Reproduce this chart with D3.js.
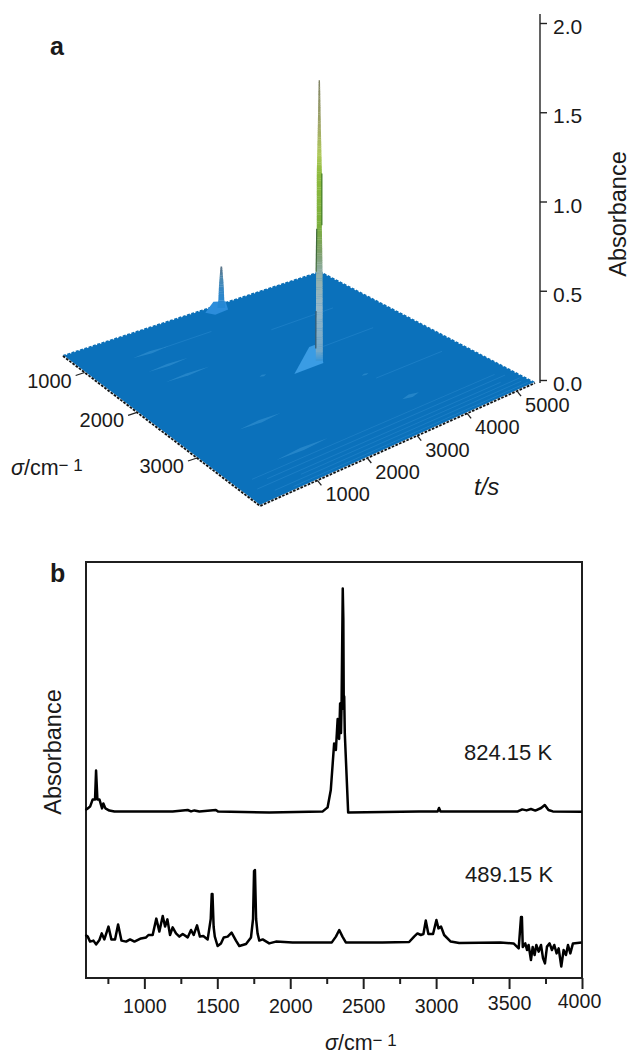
<!DOCTYPE html>
<html>
<head>
<meta charset="utf-8">
<style>
    html, body { margin: 0; padding: 0; background: #fff; }
    svg { display: block; }
    text { font-family: "Liberation Sans", Arial, sans-serif; fill: #1a1a1a; }
</style>
</head>
<body>
<svg width="630" height="1054"></svg>
<script src="https://d3js.org/d3.v7.min.js"></script>
<script>
    // panel b spectra: wavenumber (cm-1), absorbance (arbitrary offset units)
    var hotSigma = [596, 612, 628, 646, 662, 669, 678, 692, 710, 719, 733, 760, 795, 1194, 1297, 1320, 1343, 1377, 1490, 1505, 1856, 2221, 2256, 2278, 2301, 2313, 2325, 2335, 2342, 2348, 2352, 2360, 2364, 2367, 2370, 2374, 2397, 2883, 3010, 3020, 3030, 3560, 3590, 3620, 3650, 3680, 3720, 3745, 3770, 3800, 4000];
    var hotAbs = [0.845, 0.853, 0.862, 0.898, 0.898, 1.042, 0.898, 0.898, 0.853, 0.878, 0.853, 0.842, 0.837, 0.837, 0.845, 0.838, 0.843, 0.838, 0.845, 0.837, 0.833, 0.837, 0.858, 0.945, 1.178, 1.145, 1.30, 1.20, 1.378, 1.23, 1.38, 1.953, 1.80, 1.35, 1.412, 1.228, 0.833, 0.837, 0.837, 0.855, 0.838, 0.838, 0.848, 0.843, 0.85, 0.842, 0.855, 0.87, 0.845, 0.838, 0.836];
    var coolSigma = [596, 612, 628, 651, 669, 692, 708, 726, 754, 774, 799, 820, 843, 875, 902, 932, 977, 1012, 1028, 1057, 1082, 1103, 1126, 1142, 1158, 1176, 1194, 1217, 1240, 1263, 1297, 1320, 1338, 1361, 1381, 1404, 1434, 1455, 1462, 1467, 1475, 1483, 1502, 1525, 1544, 1571, 1598, 1628, 1651, 1697, 1731, 1745, 1752, 1758, 1766, 1776, 1788, 1811, 1856, 1902, 2016, 2285, 2313, 2336, 2358, 2381, 2632, 2815, 2849, 2872, 2895, 2913, 2929, 2947, 2979, 3002, 3016, 3034, 3055, 3100, 3158, 3440, 3531, 3566, 3582, 3588, 3594, 3611, 3623, 3634, 3650, 3662, 3675, 3687, 3703, 3719, 3733, 3746, 3760, 3778, 3794, 3810, 3826, 3840, 3858, 3874, 3890, 3904, 3920, 3938, 3997];
    var coolAbs = [0.22, 0.212, 0.187, 0.192, 0.173, 0.195, 0.228, 0.198, 0.262, 0.198, 0.198, 0.273, 0.192, 0.187, 0.198, 0.187, 0.203, 0.208, 0.22, 0.22, 0.302, 0.237, 0.315, 0.262, 0.298, 0.22, 0.258, 0.228, 0.212, 0.225, 0.208, 0.245, 0.22, 0.268, 0.212, 0.215, 0.198, 0.30, 0.425, 0.425, 0.26, 0.212, 0.165, 0.178, 0.208, 0.212, 0.232, 0.192, 0.165, 0.175, 0.208, 0.30, 0.54, 0.545, 0.30, 0.228, 0.192, 0.198, 0.178, 0.187, 0.183, 0.183, 0.212, 0.245, 0.212, 0.183, 0.183, 0.185, 0.212, 0.228, 0.22, 0.225, 0.292, 0.225, 0.225, 0.295, 0.253, 0.262, 0.22, 0.187, 0.18, 0.182, 0.178, 0.153, 0.31, 0.31, 0.16, 0.178, 0.145, 0.17, 0.095, 0.16, 0.12, 0.17, 0.137, 0.17, 0.103, 0.078, 0.162, 0.178, 0.145, 0.17, 0.128, 0.153, 0.062, 0.145, 0.12, 0.17, 0.128, 0.178, 0.182];
    var majorTicks = [1000, 1500, 2000, 2500, 3000, 3500, 4000];
    var minorTicks = [750, 1250, 1750, 2250, 2750, 3250, 3750];

    // panel a axis ticks
    var absTicks = [0, 0.5, 1, 1.5, 2];
    var sigmaTicks = [1000, 2000, 3000];
    var timeTicks = [1000, 2000, 3000, 4000, 5000];

    // panel a peaks: absorbance level, half width in cm-1
    var mainSigma = 2270, mainTime = 3300;
    var mainLevels = [0, 0.49, 0.75, 1.05, 1.31, 1.57];
    var mainWidths = [21, 19, 15, 15, 9, 4];
    var sideSigma = 669, sideTime = 3160;
    var sideLevels = [0, 0.05, 0.12, 0.19, 0.23];
    var sideWidths = [24, 18, 15, 9, 5];

    // low streaks on the surface: sigma, time, half widths
    var bumpSigma = [1040, 1375, 1665, 2160, 2770, 2840, 3380, 3480];
    var bumpTime = [1210, 1200, 1280, 2270, 3590, 1340, 3700, 1370];
    var bumpWs = [25, 25, 25, 18, 18, 25, 30, 25];
    var bumpWt = [380, 420, 460, 70, 70, 420, 170, 520];

    // faint lines running along the time axis
    var ridgeSigma = [1400, 2060, 3600, 3680, 3760, 3820, 3880, 3940, 2900, 1040];
    var ridgeFrom = [3350, 3400, 200, 400, 100, 900, 300, 600, 3650, 1500];
    var ridgeTo = [4650, 4700, 5100, 5200, 5000, 5300, 5250, 5300, 5000, 2500];

    var svg = d3.select("svg");

    // ---- panel a ----
    var cornerL = [63, 356], cornerB = [260, 506], cornerR = [535, 383], cornerT = [320, 272];

    var uScale = d3.scaleLinear().domain([600, 1000, 2000, 3000, 4000]).range([0, 0.11, 0.376, 0.68, 1]);
    var vScale = d3.scaleLinear().domain([-150, 5360]).range([0, 1]);
    var zScale = d3.scaleLinear().domain([0, 2]).range([0, -357]);

    function project(s, t, a) {
        var u = uScale(s), v = vScale(t);
        var x = (1 - u) * (1 - v) * cornerL[0] + u * (1 - v) * cornerB[0] + (1 - u) * v * cornerT[0] + u * v * cornerR[0];
        var y = (1 - u) * (1 - v) * cornerL[1] + u * (1 - v) * cornerB[1] + (1 - u) * v * cornerT[1] + u * v * cornerR[1];
        return [x, y + zScale(a || 0)];
    }

    var a = svg.append("g");

    a.append("text").attr("x", 50).attr("y", 55).attr("font-size", 25).attr("font-weight", "bold").text("a");

    // sawtooth back edges
    a.append("path")
        .attr("d", d3.line()([cornerL, cornerT, cornerR]))
        .attr("fill", "none").attr("stroke", "#0d6fb5").attr("stroke-width", 2).attr("stroke-dasharray", "3 1.5");

    a.append("polygon")
        .attr("points", [cornerL, cornerB, cornerR, cornerT].join(" "))
        .attr("fill", "#0b71bb");

    a.selectAll(".ridge")
        .data(ridgeSigma)
        .enter().append("path")
        .attr("class", "ridge")
        .attr("d", function (d, i) {
            return d3.line()([project(d, ridgeFrom[i]), project(d, ridgeTo[i])]);
        })
        .attr("fill", "none")
        .attr("stroke", "#2a8ad0")
        .attr("stroke-width", 1)
        .attr("opacity", 0.5);

    a.selectAll(".bump")
        .data(bumpSigma)
        .enter().append("polygon")
        .attr("class", "bump")
        .attr("points", function (d, i) {
            var t = bumpTime[i], ws = bumpWs[i], wt = bumpWt[i];
            return [project(d - ws, t), project(d, t - wt), project(d + ws, t), project(d, t + wt)].join(" ");
        })
        .attr("fill", "#3d9ad8")
        .attr("opacity", 0.5);

    // foot of the small peak on the back edge
    a.append("polygon")
        .attr("points", [project(sideSigma - 10, sideTime - 330), project(sideSigma + 90, sideTime - 240), project(sideSigma + 70, sideTime + 60), project(sideSigma, sideTime + 90, 0.03), project(sideSigma, sideTime - 170, 0.05)].join(" "))
        .attr("fill", "#2c8ddb");

    function drawPeak(s, t, levels, widths, colors) {
        var w = d3.scaleLinear().domain(levels).range(widths);
        var top = levels[levels.length - 1];
        var slices = d3.range(0, top, 0.01);
        a.append("g").selectAll("polygon")
            .data(slices)
            .enter().append("polygon")
            .attr("points", function (d) {
                var w0 = w(d), w1 = w(Math.min(d + 0.012, top));
                return [
                    project(s - w0, t - 2.2 * w0, d),
                    project(s + w0, t + 2.2 * w0, d),
                    project(s + w1, t + 2.2 * w1, d + 0.012),
                    project(s - w1, t - 2.2 * w1, d + 0.012)
                ].join(" ");
            })
            .attr("fill", colors);
    }

    var mainColor = d3.scaleLinear()
        .domain([0, 0.05, 0.3, 0.49, 0.6, 0.75, 1.05, 1.15, 1.31, 1.57])
        .range(["#3a96d8", "#74a8c8", "#97b8c8", "#90aea8", "#7d9f6a", "#7aae3c", "#8fbb3e", "#afc95a", "#a2a868", "#7f8264"]);
    var sideColor = d3.scaleLinear()
        .domain([0, 0.08, 0.16, 0.23])
        .range(["#2488d6", "#2f86c8", "#4d89b0", "#5a6f80"]);

    // foot of the main peak
    a.append("polygon")
        .attr("points", [project(mainSigma + 55, mainTime - 590), project(mainSigma + 57, mainTime + 9), project(mainSigma, mainTime, 0.08), project(mainSigma, mainTime - 100, 0.1), project(mainSigma, mainTime - 210, 0.1)].join(" "))
        .attr("fill", "#3a9ce4");

    drawPeak(mainSigma, mainTime, mainLevels, mainWidths, mainColor);
    drawPeak(sideSigma, sideTime, sideLevels, sideWidths, sideColor);

    // darker edges on the main peak
    function peakEdge(from, to, side, color) {
        var w = d3.scaleLinear().domain(mainLevels).range(mainWidths);
        a.append("path")
            .attr("d", d3.line()([
                project(mainSigma + side * w(from), mainTime + side * 2.2 * w(from), from),
                project(mainSigma + side * w(to), mainTime + side * 2.2 * w(to), to)
            ]))
            .attr("fill", "none").attr("stroke", color).attr("stroke-width", 1.2);
    }
    peakEdge(0.76, 1.05, 1, "#3f7a22");
    peakEdge(0.5, 0.74, -1, "#3f6a3a");
    peakEdge(0.07, 0.28, -1, "#33586e");

    // speckled front edges
    var frontEdge = d3.line()([cornerL, cornerB, cornerR]);
    a.append("path").attr("d", frontEdge).attr("fill", "none").attr("stroke", "#dfe8ee").attr("stroke-width", 2);
    a.append("path").attr("d", frontEdge).attr("fill", "none").attr("stroke", "#111").attr("stroke-width", 1.8).attr("stroke-dasharray", "2.5 1.5");

    // absorbance axis
    var zAxisScale = d3.scaleLinear().domain([0, 2]).range([380, 23]);
    a.append("g")
        .attr("transform", "translate(540,0)")
        .call(d3.axisRight(zAxisScale).tickValues(absTicks).tickFormat(d3.format(".1f")).tickSize(7).tickPadding(6))
        .call(function (g) {
            g.select(".domain").attr("d", "M0,14V383").attr("stroke", "#222").attr("stroke-width", 1.4);
            g.selectAll(".tick line").attr("stroke", "#222").attr("stroke-width", 1.4);
            g.selectAll(".tick text").attr("font-size", 21).attr("font-family", null).attr("dy", "0.5em");
        });

    a.append("text")
        .attr("transform", "translate(626,214) rotate(-90)")
        .attr("text-anchor", "middle")
        .attr("font-size", 23.5)
        .text("Absorbance");

    // wavenumber ticks on the left front edge
    var sTick = a.selectAll(".s-tick")
        .data(sigmaTicks)
        .enter().append("g")
        .attr("class", "s-tick")
        .attr("transform", function (d) { return "translate(" + project(d, -150) + ")"; });
    sTick.append("line").attr("x1", -9).attr("y1", 3).attr("x2", 0).attr("y2", 0).attr("stroke", "#222").attr("stroke-width", 1.3);
    sTick.append("text")
        .attr("x", -13).attr("y", 15)
        .attr("text-anchor", "end").attr("font-size", 20)
        .text(function (d) { return d; });

    // time ticks on the right front edge
    var tTick = a.selectAll(".t-tick")
        .data(timeTicks)
        .enter().append("g")
        .attr("class", "t-tick")
        .attr("transform", function (d) { return "translate(" + project(4000, d) + ")"; });
    tTick.append("line").attr("x1", 0).attr("y1", 0).attr("x2", 4).attr("y2", 5).attr("stroke", "#222").attr("stroke-width", 1.3);
    tTick.append("text")
        .attr("x", 8).attr("y", 21)
        .attr("font-size", 20)
        .text(function (d) { return d; });

    var sLabelA = a.append("text").attr("x", 11).attr("y", 475).attr("font-size", 21.5);
    sLabelA.append("tspan").attr("font-style", "italic").text("σ");
    sLabelA.append("tspan").text("/cm");
    sLabelA.append("tspan").attr("dy", -4).attr("font-size", 17).text("− 1");

    a.append("text").attr("x", 474).attr("y", 495).attr("font-size", 24).attr("font-style", "italic").text("t/s");

    // ---- panel b ----
    var x = d3.scaleLinear().domain([600, 4000]).range([86, 582]);
    var y = d3.scaleLinear().domain([0.005, 2.085]).range([978, 562]);

    var b = svg.append("g");

    b.append("text").attr("x", 50).attr("y", 582).attr("font-size", 25).attr("font-weight", "bold").text("b");

    b.append("rect")
        .attr("x", x(600)).attr("y", y(2.085))
        .attr("width", x(4000) - x(600)).attr("height", y(0.005) - y(2.085))
        .attr("fill", "none").attr("stroke", "#1f1f1f").attr("stroke-width", 2);

    var spectrum = d3.line()
        .x(function (d) { return x(d[0]); })
        .y(function (d) { return y(d[1]); });

    b.append("path")
        .attr("d", spectrum(d3.zip(hotSigma, hotAbs)))
        .attr("fill", "none").attr("stroke", "#000").attr("stroke-width", 2.5).attr("stroke-linejoin", "round");
    b.append("path")
        .attr("d", spectrum(d3.zip(coolSigma, coolAbs)))
        .attr("fill", "none").attr("stroke", "#000").attr("stroke-width", 2.5).attr("stroke-linejoin", "round");

    b.append("g")
        .attr("transform", "translate(0,978)")
        .call(d3.axisBottom(x).tickValues(minorTicks).tickFormat("").tickSize(6))
        .call(function (g) {
            g.select(".domain").remove();
            g.selectAll("line").attr("stroke", "#1f1f1f").attr("stroke-width", 2);
        });

    b.append("g")
        .attr("transform", "translate(0,978)")
        .call(d3.axisBottom(x).tickValues(majorTicks).tickFormat(d3.format("d")).tickSize(11).tickPadding(10))
        .call(function (g) {
            g.select(".domain").remove();
            g.selectAll("line").attr("stroke", "#1f1f1f").attr("stroke-width", 2);
            g.selectAll("text").attr("font-size", 19.6).attr("font-family", null);
            g.selectAll(".tick").filter(function (d) { return d == 3500; }).select("text").attr("dy", "0.55em");
            g.selectAll(".tick").filter(function (d) { return d == 4000; }).select("text").attr("dy", "0.45em").attr("x", -3);
        });

    var sLabelB = b.append("text").attr("x", 325).attr("y", 1050).attr("font-size", 21.5);
    sLabelB.append("tspan").attr("font-style", "italic").text("σ");
    sLabelB.append("tspan").text("/cm");
    sLabelB.append("tspan").attr("dy", -4).attr("font-size", 17).text("− 1");

    b.append("text")
        .attr("transform", "translate(61,752) rotate(-90)")
        .attr("text-anchor", "middle")
        .attr("font-size", 23.5)
        .text("Absorbance");

    b.append("text").attr("x", 464).attr("y", 760).attr("font-size", 22).text("824.15 K");
    b.append("text").attr("x", 465).attr("y", 882).attr("font-size", 22).text("489.15 K");
</script>
</body>
</html>
